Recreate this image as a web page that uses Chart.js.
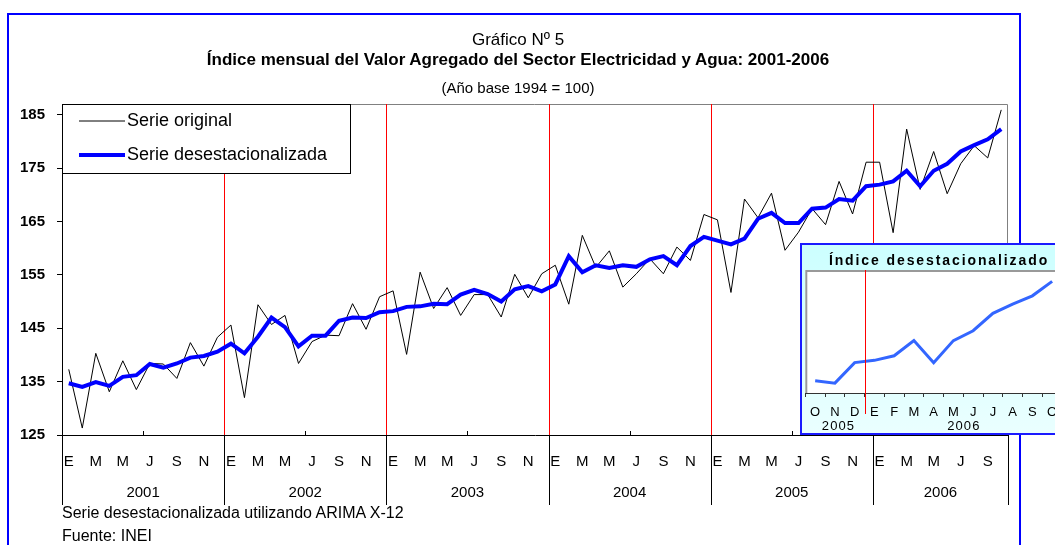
<!DOCTYPE html>
<html>
<head>
<meta charset="utf-8">
<script src="https://cdn.jsdelivr.net/npm/chart.js"></script>
<style>
    html, body { margin:0; padding:0; background:#fff; width:1055px; height:545px; overflow:hidden; }
    body { position:relative; font-family: Arial, "Liberation Sans", sans-serif; color:#000; }
    #frame { position:absolute; left:7px; top:13px; width:1014px; height:600px; border:2px solid #0000ff; box-sizing:border-box; }
    #mainChart { position:absolute; left:0; top:0; }
    .txt { position:absolute; left:0; width:1036px; text-align:center; line-height:18px; white-space:nowrap; }
    .foot { position:absolute; left:62px; line-height:18px; font-size:16px; white-space:nowrap; }
    #inset { position:absolute; left:800px; top:243px; width:300px; height:188px; border:2px solid #1a1aff;
             background:linear-gradient(#ccffff, #eaffff); }
    #insetTitle { position:absolute; left:0; top:6px; width:274px; text-align:center; font-size:14px; font-weight:bold;
                  letter-spacing:1.9px; line-height:18px; white-space:nowrap; }
    #insetChart { position:absolute; left:0; top:0; }
</style>
</head>
<body>

<canvas id="mainChart" width="1055" height="545"></canvas>
<div id="frame"></div>

<div class="txt" style="top:31px; font-size:17px;">Gráfico Nº 5</div>
<div class="txt" style="top:51px; font-size:17px; font-weight:bold;">Índice mensual del Valor Agregado del Sector Electricidad y Agua: 2001-2006</div>
<div class="txt" style="top:79px; font-size:15px;">(Año base 1994 = 100)</div>

<div class="foot" style="top:504px;">Serie desestacionalizada utilizando ARIMA X-12</div>
<div class="foot" style="top:527px;">Fuente: INEI</div>

<div id="inset">
    <canvas id="insetChart" width="270" height="188"></canvas>
    <div id="insetTitle">Índice desestacionalizado</div>
</div>

<script type="text/javascript">
    const months = ['E','F','M','A','M','J','J','A','S','O','N','D'];
    const years = ['2001','2002','2003','2004','2005','2006'];
    const yTicks = [125, 135, 145, 155, 165, 175, 185];

    // ene 2001 - oct 2006
    const original = [
        137.3, 126.3, 140.3, 133.1, 138.9, 133.5, 138.4, 138.3, 135.6, 142.3, 137.9, 143.3,
        145.6, 132.0, 149.4, 145.7, 147.4, 138.4, 142.5, 143.7, 143.6, 149.6, 144.8, 150.9,
        152.0, 140.1, 155.5, 148.7, 152.6, 147.4, 151.3, 151.3, 147.1, 155.1, 150.7, 155.2,
        156.8, 149.5, 162.4, 156.4, 159.5, 152.7, 155.2, 158.0, 155.2, 160.2, 157.7, 166.3,
        165.3, 151.7, 169.2, 165.7, 170.3, 159.6, 163.0, 167.4, 164.4, 172.5, 166.4, 176.1,
        176.1, 162.9, 182.3, 171.0, 178.1, 170.2, 175.8, 179.2, 176.9, 185.9
    ];
    const desest = [
        134.7, 134.0, 134.9, 134.2, 135.9, 136.2, 138.3, 137.6, 138.4, 139.5, 139.8, 140.6,
        142.1, 140.3, 143.4, 147.0, 145.2, 141.6, 143.6, 143.6, 146.4, 147.0, 146.9, 148.0,
        148.2, 149.0, 149.1, 149.6, 149.5, 151.3, 152.2, 151.4, 150.0, 152.3, 152.9, 151.9,
        153.2, 158.5, 155.5, 156.8, 156.3, 156.8, 156.5, 157.9, 158.5, 156.8, 160.4, 162.1,
        161.4, 160.7, 161.8, 165.5, 166.6, 164.7, 164.7, 167.4, 167.6, 169.2, 168.9, 171.6,
        171.9, 172.5, 174.5, 171.6, 174.5, 175.8, 178.1, 179.3, 180.4, 182.3
    ];

    const labels = original.map((v, i) => months[i % 12]);

    // recuadro: ultimos 13 meses (oct 2005 - oct 2006)
    const insetStart = 57;
    const insetYears = ['2005', '2006'];
    const insetLabels = labels.slice(insetStart);
    const insetData = desest.slice(insetStart);

    Chart.defaults.font.family = 'Arial, "Liberation Sans", sans-serif';
    Chart.defaults.color = '#000';

    function boundary(x, i) {
        const step = x.getPixelForValue(1) - x.getPixelForValue(0);
        return x.getPixelForValue(i) - step / 2;
    }

    const decor = {
        id: 'decor',
        beforeDatasetsDraw(chart) {
            const {ctx, chartArea: a, scales: {x}} = chart;
            ctx.save();
            ctx.lineWidth = 1;
            ctx.strokeStyle = '#808080';
            ctx.beginPath();
            ctx.moveTo(a.left, a.top + 0.5);
            ctx.lineTo(a.right - 0.5, a.top + 0.5);
            ctx.lineTo(a.right - 0.5, a.bottom);
            ctx.stroke();
            ctx.strokeStyle = '#ff0000';
            for (let i = 12; i < labels.length; i += 12) {
                const px = Math.round(boundary(x, i)) + 0.5;
                ctx.beginPath();
                ctx.moveTo(px, a.top);
                ctx.lineTo(px, a.bottom);
                ctx.stroke();
            }
            ctx.restore();
        },
        afterDraw(chart) {
            const {ctx, chartArea: a, scales: {x}} = chart;
            ctx.save();
            ctx.lineWidth = 1;
            ctx.strokeStyle = '#000';
            // marcas semestrales
            for (let i = 6; i < labels.length; i += 12) {
                const px = Math.round(boundary(x, i)) + 0.5;
                ctx.beginPath();
                ctx.moveTo(px, a.bottom);
                ctx.lineTo(px, a.bottom - 4);
                ctx.stroke();
            }
            // separadores de año y etiquetas
            const b = [];
            for (let i = 0; i < labels.length; i += 12) b.push(boundary(x, i));
            b.push(a.right);
            b.forEach(px => {
                px = Math.round(px) + 0.5;
                ctx.beginPath();
                ctx.moveTo(px, a.bottom);
                ctx.lineTo(px, a.bottom + 70);
                ctx.stroke();
            });
            ctx.fillStyle = '#000';
            ctx.font = '15px Arial, "Liberation Sans", sans-serif';
            ctx.textAlign = 'center';
            ctx.textBaseline = 'middle';
            years.forEach((yr, k) => ctx.fillText(yr, (b[k] + b[k + 1]) / 2, a.bottom + 58));

            // leyenda
            const lx = a.left, ly = a.top, lw = 288, lh = 69;
            ctx.fillStyle = '#fff';
            ctx.fillRect(lx, ly, lw, lh);
            ctx.strokeStyle = '#000';
            ctx.strokeRect(lx + 0.5, ly + 0.5, lw, lh);
            ctx.font = '18px Arial, "Liberation Sans", sans-serif';
            ctx.textAlign = 'left';
            const order = [1, 0];
            order.forEach((di, k) => {
                const ds = chart.data.datasets[di];
                const cy = ly + 17 + k * 34;
                ctx.strokeStyle = ds.borderColor;
                ctx.lineWidth = ds.borderWidth;
                ctx.beginPath();
                ctx.moveTo(lx + 17, cy);
                ctx.lineTo(lx + 63, cy);
                ctx.stroke();
                ctx.fillStyle = '#000';
                ctx.fillText(ds.label, lx + 65, cy);
            });
            ctx.restore();
        }
    };

    new Chart(document.getElementById('mainChart'), {
        type: 'line',
        data: {
            labels: labels,
            datasets: [{
                label: 'Serie desestacionalizada',
                data: desest,
                borderColor: '#0000ff',
                borderWidth: 4,
                pointRadius: 0,
                tension: 0,
                order: 0
            }, {
                label: 'Serie original',
                data: original,
                borderColor: '#000000',
                borderWidth: 1,
                pointRadius: 0,
                tension: 0,
                order: 1
            }]
        },
        options: {
            responsive: false,
            animation: false,
            layout: { padding: { left: 0, top: 104, right: 47, bottom: 35 } },
            plugins: { legend: { display: false }, tooltip: { enabled: false } },
            scales: {
                x: {
                    type: 'category',
                    offset: true,
                    grid: { display: false, drawTicks: false },
                    border: { display: true, color: '#000', width: 1 },
                    ticks: {
                        autoSkip: false, maxRotation: 0, minRotation: 0, padding: 18,
                        font: { size: 15 },
                        callback: (v, i) => i % 2 === 0 ? labels[i] : ''
                    },
                    afterFit: s => { s.height = 75; }
                },
                y: {
                    min: 125,
                    max: 187,
                    grid: { drawOnChartArea: false, drawTicks: true, tickLength: 5, color: '#000' },
                    border: { color: '#000' },
                    afterBuildTicks: s => { s.ticks = yTicks.map(v => ({ value: v })); },
                    ticks: { padding: 12, font: { size: 15, weight: 'bold' } },
                    afterFit: s => { s.width = 62; }
                }
            }
        },
        plugins: [decor]
    });

    const insetDecor = {
        id: 'insetDecor',
        beforeDatasetsDraw(chart) {
            const {ctx, chartArea: a} = chart;
            ctx.save();
            ctx.fillStyle = '#fff';
            ctx.fillRect(a.left, a.top, a.right - a.left, a.bottom - a.top);
            ctx.strokeStyle = '#999';
            ctx.lineWidth = 2;
            ctx.beginPath();
            ctx.moveTo(a.left + 1, a.bottom);
            ctx.lineTo(a.left + 1, a.top + 1);
            ctx.lineTo(a.right, a.top + 1);
            ctx.stroke();
            ctx.restore();
        },
        afterDraw(chart) {
            const {ctx, chartArea: a, scales: {x}} = chart;
            ctx.save();
            ctx.strokeStyle = '#ff0000';
            ctx.lineWidth = 1;
            const split = 12 - (insetStart % 12);
            const px = Math.round(boundary(x, split)) + 0.5;
            ctx.beginPath();
            ctx.moveTo(px, a.top);
            ctx.lineTo(px, a.bottom + 21);
            ctx.stroke();
            ctx.fillStyle = '#000';
            ctx.font = '13px Arial, "Liberation Sans", sans-serif';
            ctx.textAlign = 'center';
            ctx.textBaseline = 'middle';
            const c1 = (x.getPixelForValue(0) + x.getPixelForValue(split - 1)) / 2;
            const c2 = (x.getPixelForValue(split) + x.getPixelForValue(insetLabels.length - 1)) / 2;
            ctx.fillText(insetYears[0].split('').join(String.fromCharCode(8202)), c1 + 3, a.bottom + 33);
            ctx.fillText(insetYears[1].split('').join(String.fromCharCode(8202)), c2, a.bottom + 33);
            ctx.restore();
        }
    };

    new Chart(document.getElementById('insetChart'), {
        type: 'line',
        data: {
            labels: insetLabels,
            datasets: [{
                label: 'Índice desestacionalizado',
                data: insetData,
                borderColor: '#3366ff',
                borderWidth: 3,
                pointRadius: 0,
                tension: 0
            }]
        },
        options: {
            responsive: false,
            animation: false,
            layout: { padding: { left: 3, top: 25, right: 10, bottom: 0 } },
            plugins: { legend: { display: false }, tooltip: { enabled: false } },
            scales: {
                x: {
                    type: 'category',
                    offset: true,
                    grid: { display: true, drawOnChartArea: false, drawTicks: true, tickLength: 4, color: '#333', offset: true },
                    border: { color: '#333' },
                    ticks: { autoSkip: false, maxRotation: 0, minRotation: 0, padding: 8, font: { size: 13 } },
                    afterFit: s => { s.height = 40; }
                },
                y: {
                    display: false,
                    min: 167.6,
                    max: 183.8
                }
            }
        },
        plugins: [insetDecor]
    });
</script>
</body>
</html>
